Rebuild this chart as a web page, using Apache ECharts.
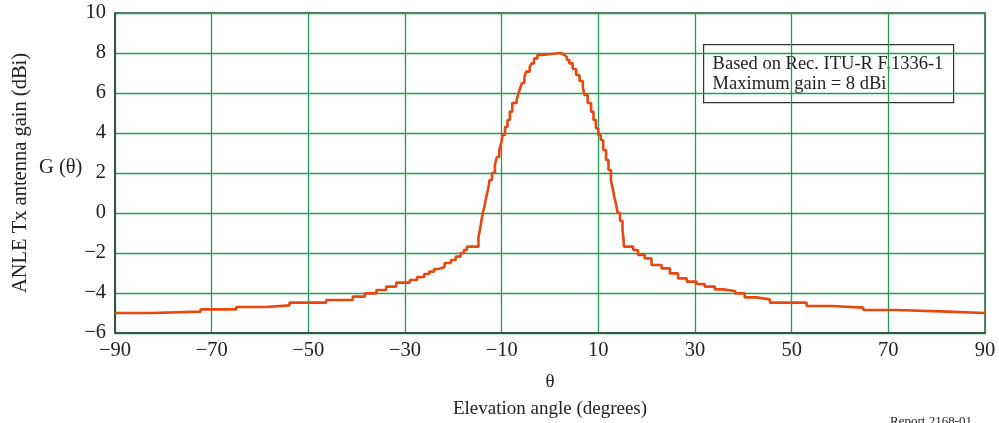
<!DOCTYPE html>
<html>
<head>
<meta charset="utf-8">
<script src="https://cdn.jsdelivr.net/npm/echarts@6/dist/echarts.min.js"></script>
<style>
  html, body { margin: 0; padding: 0; background: #fff; }
  #chart { width: 999px; height: 423px; }
</style>
</head>
<body>
<div id="chart"></div>
<script>
// elevation angle (deg) where each step of the gain curve starts
let angles = [
    -90, -82.5, -72.3, -64.9, -58.7, -53.9, -46.3, -40.8, -38.3, -35.9, -33.9, -31.8,
    -29, -27.5, -26, -25, -24, -23, -21.8, -20.5, -19.5, -18.5, -17.8, -17.2,
    -14.8, -14.5, -14.2, -13.9, -13.5, -13.2, -12.8, -12.5, -12, -11.4, -11, -10.5,
    -10.1, -9.8, -9.3, -8.8, -8.3, -7.8, -6.9, -6.5, -6.1, -5.8, -5.3, -4.9,
    -4.2, -3.8, -3.3, -2.6, -1.6,
    2.2, 3.0, 3.5, 4.0, 4.7, 5.4, 6.1, 6.8, 7.1, 7.8, 8.5, 9.0, 9.5, 10.0,
    10.5, 11.0, 11.6, 12.1, 12.6, 13.0, 13.3, 13.7, 14.0, 14.5, 15.0, 15.2, 15.3,
    17.2, 18.2, 19.6, 21.0, 23.1, 24.8, 26.5, 28.3, 30.3, 32.0, 34.1, 35.8,
    38.3, 40.3, 42.7, 45.5, 53.1, 58.3, 64.8, 71.7, 82.1, 90
];
// antenna gain G(theta) in dBi for each step
let gains = [
    -5.0, -4.93, -4.82, -4.7, -4.62, -4.48, -4.35, -4.18, -4.02, -3.85, -3.68, -3.48,
    -3.35, -3.2, -3.05, -2.93, -2.8, -2.7, -2.5, -2.35, -2.18, -2.0, -1.85, -1.68,
    -1.2, -0.85, -0.4, 0.0, 0.4, 0.8, 1.2, 1.65, 2.0, 2.4, 2.8, 3.15,
    3.5, 3.9, 4.3, 4.65, 5.07, 5.5, 5.65, 6.0, 6.3, 6.5, 6.8, 7.07,
    7.3, 7.48, 7.73, 7.9, 8.0,
    7.9, 7.8, 7.65, 7.48, 7.2, 6.9, 6.6, 6.3, 5.9, 5.5, 5.07, 4.65, 4.23, 3.9,
    3.65, 3.15, 2.65, 2.15, 1.65, 1.2, 0.8, 0.4, 0.0, -0.4, -0.85, -1.3, -1.68,
    -1.85, -2.1, -2.27, -2.6, -2.77, -3.02, -3.27, -3.43, -3.55, -3.68, -3.82, -3.9,
    -4.02, -4.22, -4.32, -4.48, -4.65, -4.73, -4.85, -4.93, -5.0, -5.0
];
let noteLines = ['Based on Rec. ITU-R F.1336-1', 'Maximum gain = 8 dBi'];

let font = '"Liberation Serif", "Times New Roman", serif';
let minus = function (v) { return String(v).replace('-', '\u2212'); };

let chart = echarts.init(document.getElementById('chart'), null, { renderer: 'canvas' });

let option = {
    animation: false,
    textStyle: { fontFamily: font },
    grid: {
        left: 115, right: 14, top: 13, bottom: 90,
        show: true,
        borderColor: '#2d4a3c',
        borderWidth: 1.5,
        containLabel: false,
        outerBoundsMode: 'none'
    },
    xAxis: {
        type: 'value',
        min: -90, max: 90, interval: 20,
        name: '\u03b8\nElevation angle (degrees)',
        nameLocation: 'middle',
        nameGap: 36,
        nameTextStyle: { fontFamily: font, fontSize: 19, color: '#222', lineHeight: 27 },
        axisLine: { show: true, onZero: false, lineStyle: { color: '#2d4a3c', width: 1.5 } },
        axisTick: { show: false },
        axisLabel: { fontFamily: font, fontSize: 20.5, color: '#222', margin: 7, formatter: minus },
        splitLine: { show: true, lineStyle: { color: '#1e9e55', width: 1.3 } }
    },
    yAxis: {
        type: 'value',
        min: -6, max: 10, interval: 2,
        name: 'ANLE Tx antenna gain (dBi)',
        nameLocation: 'middle',
        nameGap: 84,
        nameTextStyle: { fontFamily: font, fontSize: 20.5, color: '#222' },
        axisLine: { show: true, onZero: false, lineStyle: { color: '#2d4a3c', width: 1.5 } },
        axisTick: { show: false },
        axisLabel: { fontFamily: font, fontSize: 20.5, color: '#222', margin: 9, formatter: minus },
        splitLine: { show: true, lineStyle: { color: '#1e9e55', width: 1.3 } }
    },
    series: [{
        type: 'line',
        step: 'end',
        showSymbol: false,
        lineStyle: { color: '#e8470e', width: 2.6 },
        data: angles.map(function (a, i) { return [a, gains[i]]; }),
        z: 5
    }],
    graphic: [
        {
            type: 'text',
            left: 39, top: 157,
            style: { text: 'G (\u03b8)', font: '20.5px ' + font, fill: '#222' }
        },
        {
            type: 'group',
            left: 703, top: 44,
            z: 10,
            children: [
                {
                    type: 'rect',
                    shape: { x: 0, y: 0, width: 250, height: 58 },
                    style: { fill: '#fff', stroke: '#333', lineWidth: 1.2 }
                },
                {
                    type: 'text',
                    x: 9, y: 10,
                    style: { text: noteLines.join('\n'), font: '18.5px ' + font, fill: '#222', lineHeight: 20 }
                }
            ]
        },
        {
            type: 'text',
            left: 890, top: 415,
            style: { text: 'Report 2168-01', font: '13px ' + font, fill: '#222' }
        }
    ]
};

option && chart.setOption(option);
</script>
</body>
</html>
